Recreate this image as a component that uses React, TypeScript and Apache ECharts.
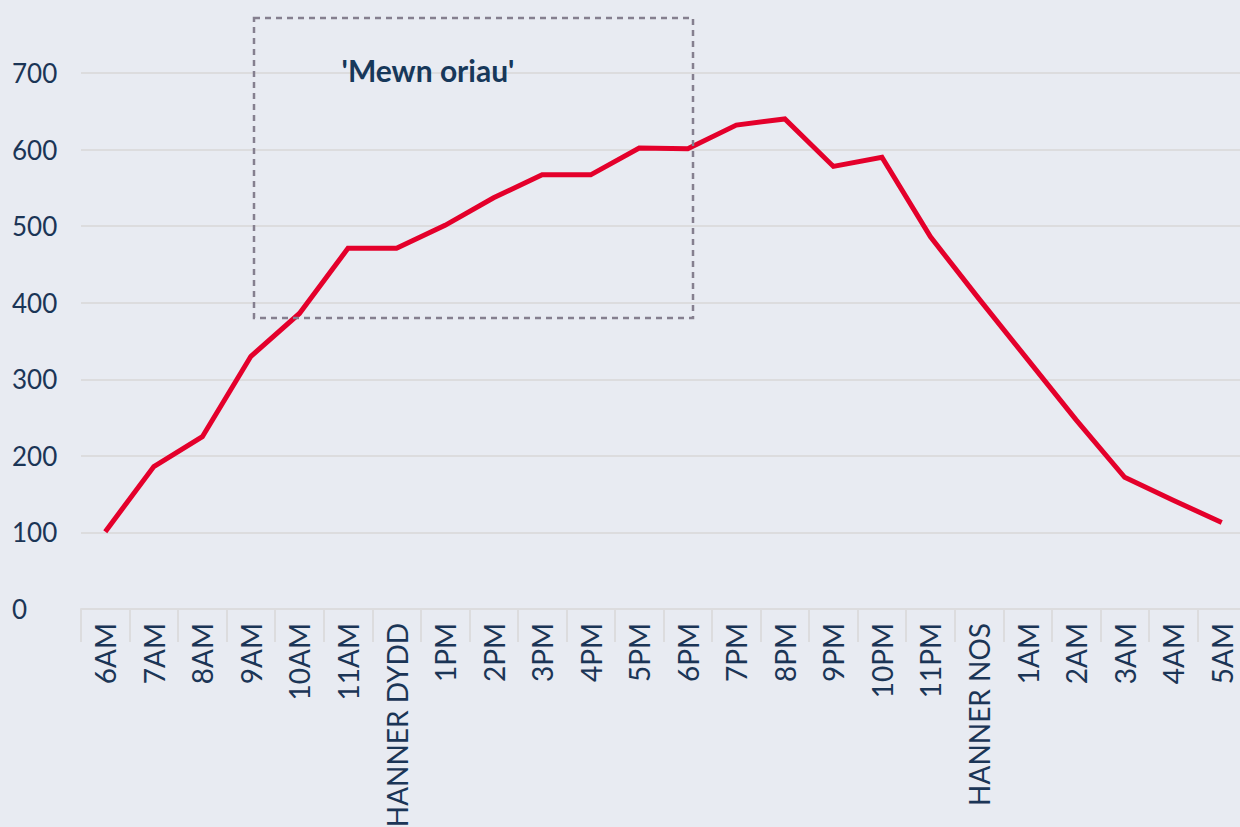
import React, { useEffect, useRef } from "react";
import * as echarts from "echarts";

const categories = [
  "6AM", "7AM", "8AM", "9AM", "10AM", "11AM", "HANNER DYDD", "1PM", "2PM", "3PM", "4PM", "5PM",
  "6PM", "7PM", "8PM", "9PM", "10PM", "11PM", "HANNER NOS", "1AM", "2AM", "3AM", "4AM", "5AM",
];
const values = [
  101, 186, 225, 330, 386, 471, 471, 501, 537, 567, 567, 602,
  601, 632, 640, 578, 590, 486, 405, 326, 247, 172, 142, 113,
];
const yTicks = { min: 0, max: 700, interval: 100 };
const annotationText = "'Mewn oriau'";

const FONT = "Lato, 'Noto Sans', sans-serif";
const NAVY = "#1b3556";

export default function App() {
  const ref = useRef<HTMLDivElement>(null);
  useEffect(() => {
    if (!ref.current) return;
    const chart = echarts.init(ref.current, undefined, { renderer: "svg" });
    chart.setOption({
      animation: false,
      backgroundColor: "#e8ebf2",
      grid: {
        left: 81,
        right: 0,
        top: 73,
        bottom: 218,
        containLabel: false,
        outerBoundsMode: "none",
      },
      xAxis: {
        type: "category",
        data: categories,
        boundaryGap: true,
        axisLine: { lineStyle: { color: "#dcdcde", width: 2 } },
        axisTick: { show: true, length: 33, lineStyle: { color: "#dcdcde", width: 2 } },
        axisLabel: {
          rotate: 90,
          interval: 0,
          margin: 14,
          color: NAVY,
          fontSize: 28,
          fontFamily: FONT,
        },
      },
      yAxis: {
        type: "value",
        min: yTicks.min,
        max: yTicks.max,
        interval: yTicks.interval,
        axisLine: { show: false },
        axisTick: { show: false },
        splitLine: { lineStyle: { color: "#dcdcde", width: 2 } },
        axisLabel: {
          align: "left",
          margin: 69,
          color: NAVY,
          fontSize: 26,
          fontFamily: FONT,
        },
      },
      series: [
        {
          type: "line",
          data: values,
          symbol: "none",
          lineStyle: { color: "#e4002b", width: 5, join: "miter" },
        },
      ],
      graphic: [
        {
          type: "rect",
          shape: { x: 254, y: 18, width: 439, height: 300 },
          style: { fill: "none", stroke: "#857f8f", lineWidth: 2.5, lineDash: [6, 5] },
          z: 10,
        },
        {
          type: "text",
          x: 428,
          y: 70,
          style: {
            text: annotationText,
            fill: "#17385a",
            font: `bold 30px ${FONT}`,
            align: "center",
            verticalAlign: "middle",
          },
          z: 10,
        },
      ],
    });
    return () => chart.dispose();
  }, []);
  return (
    <div
      style={{ position: "absolute", left: 0, top: 0, width: 1240, height: 827, overflow: "hidden" }}
    >
      <div ref={ref} style={{ width: 1246, height: 827 }} />
    </div>
  );
}
